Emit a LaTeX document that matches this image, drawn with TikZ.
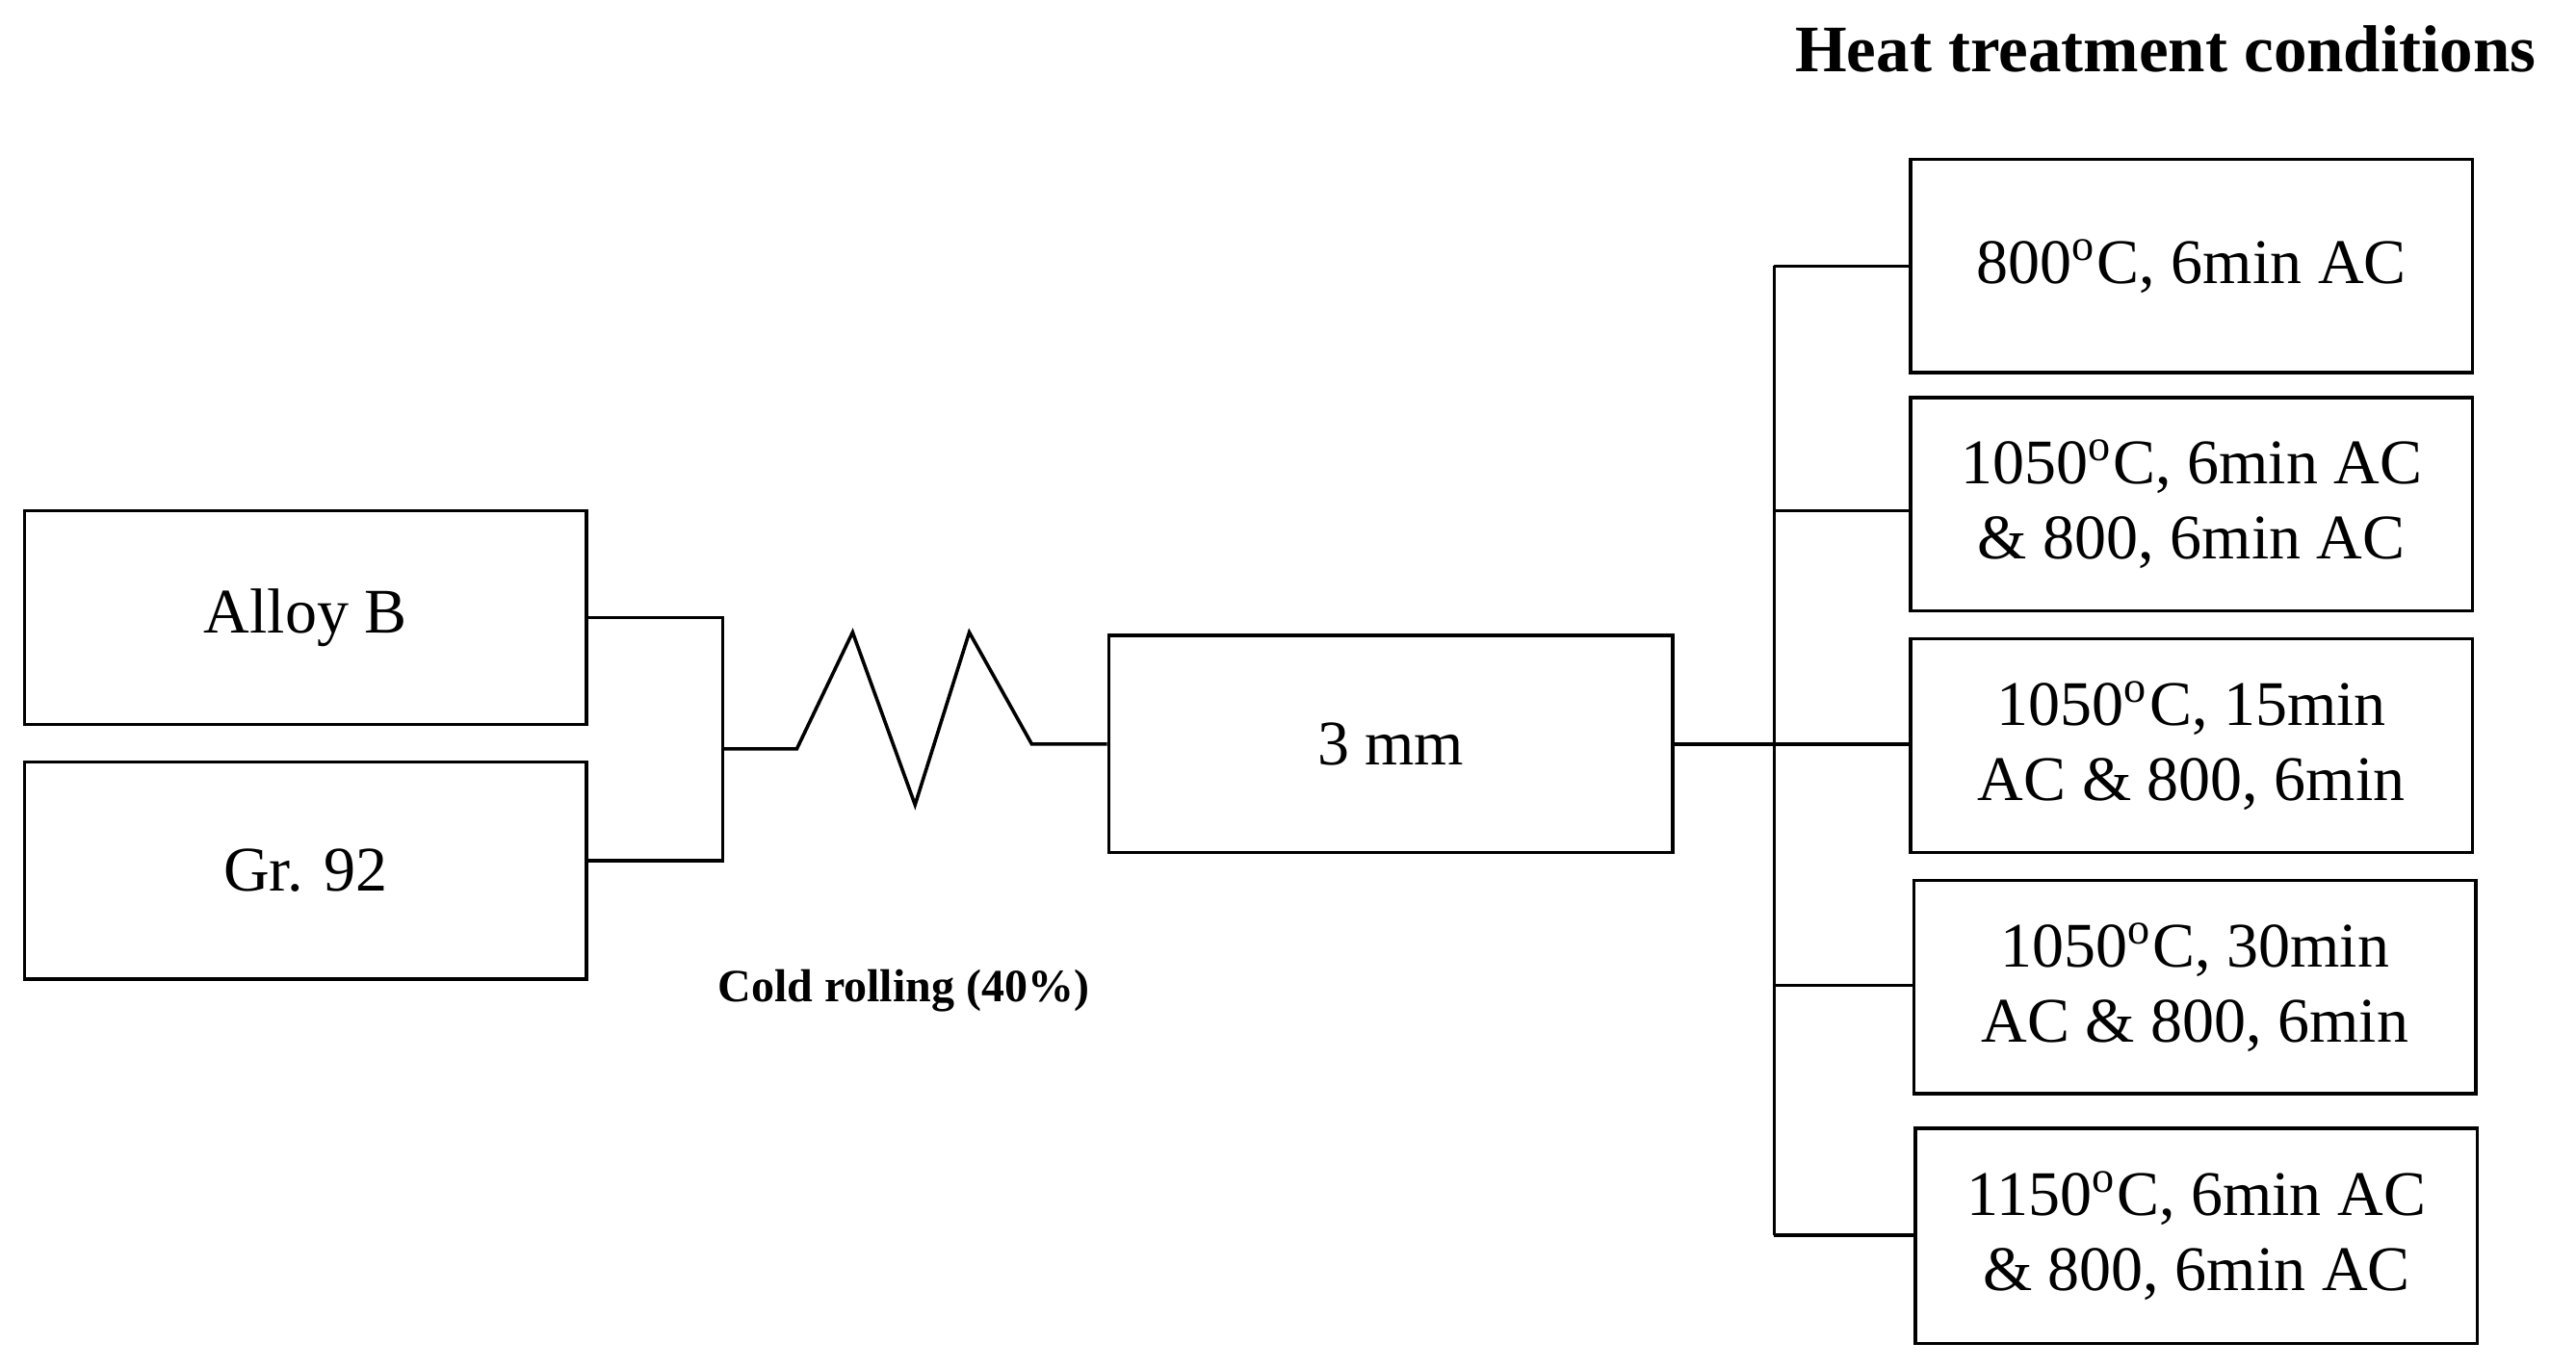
\documentclass[tikz,border=0pt]{standalone}
\usepackage{fontspec}
\setmainfont{Liberation Serif}
\begin{document}
\begin{tikzpicture}[x=0.01cm,y=-0.01cm,
  box/.style={draw,line width=0.6pt,inner sep=0pt,align=center,font=\fontsize{11}{13}\selectfont},
  ln/.style={line width=0.6pt}]
\useasboundingbox (0,0) rectangle (1568,833);
\newcommand{\bx}[6]{\node[box,minimum width={(#3-#2)*0.01cm},minimum height={(#5-#4)*0.01cm}] (#1) at ({(#2+#3)/2},{(#4+#5)/2}) {#6};}
\bx{a}{15}{357}{311}{441}{Alloy B}
\bx{g}{15}{357}{464}{596}{Gr. 92}
\bx{m}{675}{1018}{387}{519}{3 mm}
\bx{h1}{1163}{1505}{97}{227}{800\textsuperscript{o}C, 6min AC}
\bx{h2}{1163}{1505}{242}{372}{1050\textsuperscript{o}C, 6min AC\\\& 800, 6min AC}
\bx{h3}{1163}{1505}{389}{519}{1050\textsuperscript{o}C, 15min\\AC \& 800, 6min}
\bx{h4}{1165}{1507}{536}{666}{1050\textsuperscript{o}C, 30min\\AC \& 800, 6min}
\bx{h5}{1166}{1508}{687}{818}{1150\textsuperscript{o}C, 6min AC\\\& 800, 6min AC}
\coordinate (j) at (440,456);
\draw[ln] (a.east |- 0,376) -- (440,376) -- (440,524) -- (g.east |- 0,524);
\draw[ln] (j) -- (485,456) -- (519,385) -- (557,490) -- (590,385) -- (628,453) -- (m.west |- 0,453);
\draw[ln] (m.east |- 0,453) -- (h3.west |- 0,453);
\draw[ln] (1080,162) -- (1080,752);
\draw[ln] (1080,162) -- (h1.west |- 0,162);
\draw[ln] (1080,311) -- (h2.west |- 0,311);
\draw[ln] (1080,600) -- (h4.west |- 0,600);
\draw[ln] (1080,752) -- (h5.west |- 0,752);
\node[font=\bfseries\fontsize{11.5}{13}\selectfont,anchor=east] (t) at (1556,30) {Heat treatment conditions};
\node[font=\bfseries\fontsize{8}{10}\selectfont] (c) at (550,603) {Cold rolling (40\%)};
\end{tikzpicture}
\end{document}
